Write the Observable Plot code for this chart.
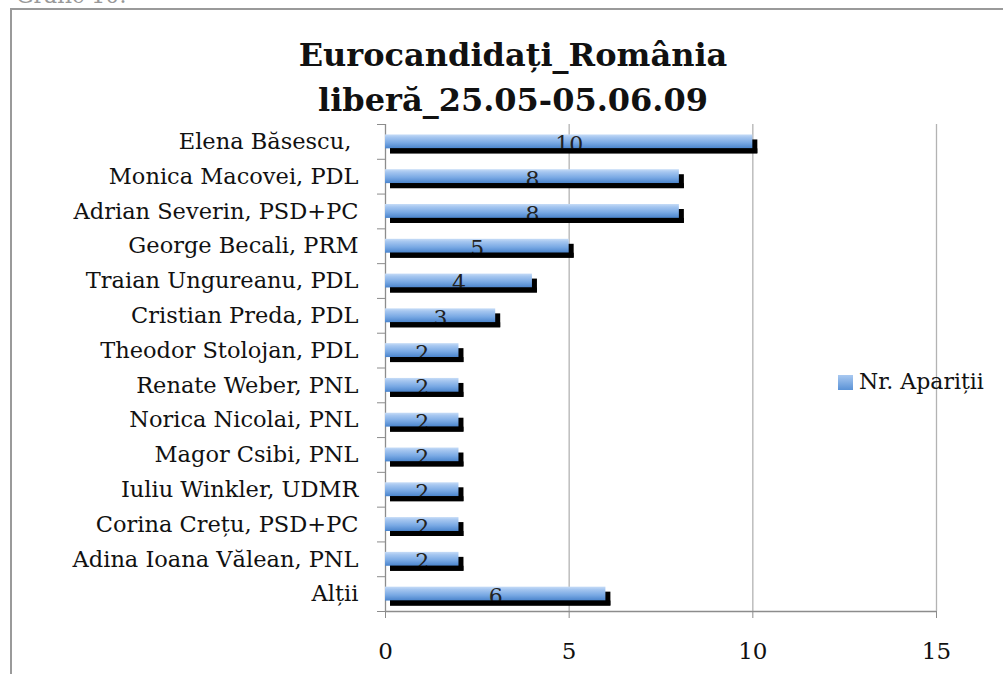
<!DOCTYPE html>
<html><head><meta charset="utf-8">
<script src="https://cdn.jsdelivr.net/npm/d3@7"></script>
<script src="https://cdn.jsdelivr.net/npm/@observablehq/plot@0.6"></script>
<style>
body{margin:0;background:#fff;overflow:hidden;}
#wrap{position:relative;width:1003px;height:674px;font-family:"DejaVu Serif",serif;overflow:hidden;}
#frame{position:absolute;left:10px;top:8px;width:1100px;height:800px;border-left:2px solid #9a9a9a;border-top:2px solid #9a9a9a;}
#pre{position:absolute;left:16px;top:-17px;font-size:22px;line-height:26px;color:#999;}
#title{position:absolute;left:0;width:1026px;top:33px;text-align:center;font-weight:bold;font-size:32px;line-height:45px;color:#111;}
#legend{position:absolute;left:838px;top:369px;font-size:22px;line-height:26px;color:#111;display:flex;align-items:center;}
#legend .sw{width:15px;height:15px;background:linear-gradient(#a9c9f1,#5a92d6);margin-right:6px;}
#chart{position:absolute;left:0;top:0;}
</style></head><body>
<div id="wrap">
<div id="pre">Grafic 10:</div>
<div id="frame"></div>
<div id="chart"></div>
<div id="title">Eurocandidați_România<br>liberă_25.05-05.06.09</div>
<div id="legend"><div class="sw"></div><span id="legtext"></span></div>
</div>
<script>
const candidates = ["Elena Băsescu, ","Monica Macovei, PDL","Adrian Severin, PSD+PC","George Becali, PRM","Traian Ungureanu, PDL","Cristian Preda, PDL","Theodor Stolojan, PDL","Renate Weber, PNL","Norica Nicolai, PNL","Magor Csibi, PNL","Iuliu Winkler, UDMR","Corina Crețu, PSD+PC","Adina Ioana Vălean, PNL","Alții"];
const appearances = [10,8,8,5,4,3,2,2,2,2,2,2,2,6];
const xTicks = [0,5,10,15];
const seriesName = "Nr. Apariții";

document.getElementById("legtext").textContent = seriesName;
const data = candidates.map((c,i)=>({name:c, value:appearances[i]}));
const W=1003,H=674,mt=124,mb=63,ml=385,mr=67;
const step=(H-mt-mb)/candidates.length;
const bw=step*0.4;
const font='"DejaVu Serif", serif';

const plot = Plot.plot({
  width:W,height:H,marginTop:mt,marginBottom:mb,marginLeft:ml,marginRight:mr,
  style:{fontFamily:font,fontSize:"22px",color:"#111",background:"transparent"},
  x:{domain:[xTicks[0],xTicks[xTicks.length-1]],label:null},
  y:{domain:candidates,paddingInner:0.6,paddingOuter:0.3,round:false,label:null},
  marks:[
    Plot.ruleX(xTicks.filter(d=>d>0),{stroke:"#b3b3b3",strokeWidth:1.3,strokeOpacity:1}),
    Plot.ruleX([0],{stroke:"#8c8c8c",strokeWidth:1.3,strokeOpacity:1}),
    Plot.ruleY([candidates[candidates.length-1]],{x1:xTicks[0],x2:xTicks[xTicks.length-1],dy:step/2,stroke:"#8c8c8c",strokeWidth:1.3,strokeOpacity:1}),
    Plot.axisY({tickSize:8,tickFormat:()=>"",dy:step/2,stroke:"#8c8c8c",label:null}),
    Plot.axisY(candidates.slice(0,1),{tickSize:8,tickFormat:()=>"",dy:-step/2,stroke:"#8c8c8c",label:null}),
    Plot.axisY({tickSize:0,tickPadding:27,fontSize:22.5,fill:"#111",label:null}),
    Plot.axisX({ticks:xTicks,tickSize:7,tickPadding:24,stroke:"#8c8c8c",fontSize:23,fill:"#111",tickFormat:d=>String(d),label:null}),
    Plot.barX(data,{x:"value",y:"name",fill:"#000",dx:5,dy:5}),
    Plot.barX(data,{x:"value",y:"name",fill:"url(#bargrad)"}),
    Plot.text(data,{x:d=>d.value/2,y:"name",text:d=>String(d.value),fontSize:22,fill:"#222",dy:3}),
    Plot.barX(data,{x:"value",y:"name",fill:"#000",dx:5,dy:5,insetTop:bw-5})
  ]
});
const defs = document.createElementNS("http://www.w3.org/2000/svg","defs");
defs.innerHTML = `<linearGradient id="bargrad" x1="0" y1="0" x2="0" y2="1">
<stop offset="0" stop-color="#c6dcf7"/><stop offset="0.2" stop-color="#a5c6f0"/>
<stop offset="0.6" stop-color="#79a9e4"/><stop offset="1" stop-color="#4a84cc"/></linearGradient>`;
plot.insertBefore(defs, plot.firstChild);
document.getElementById("chart").appendChild(plot);
</script>
</body></html>
